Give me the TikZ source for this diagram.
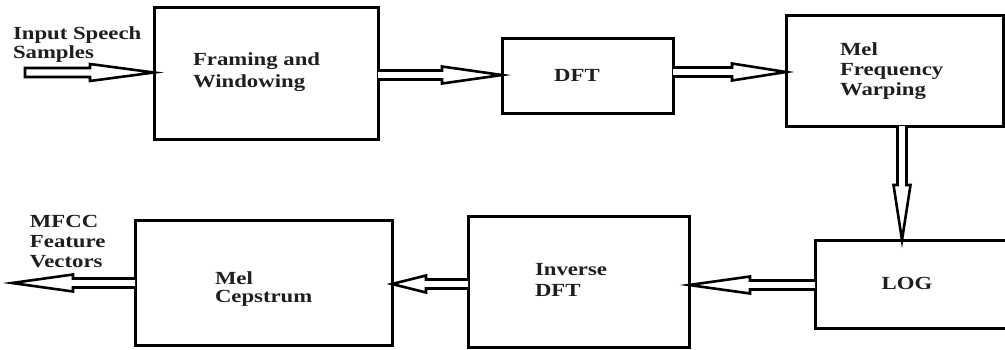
\documentclass[tikz,border=0pt]{standalone}
\usepackage{fontspec}
\setmainfont{Liberation Serif}[FakeStretch=1.23]
\usetikzlibrary{calc}
\tikzset{
  blk/.style={draw=black, line width=3pt, rectangle, inner sep=0pt, outer sep=0pt, fill=none},
  lbl/.style={inner sep=0pt, outer sep=0pt, align=left, anchor=north west, text=black!88,
              font=\fontsize{18.5}{20}\selectfont\bfseries},
  arrowline/.style={draw=black, line width=2.6pt, line join=miter, fill=white},
}
\newcommand\hollowarrow[4]{%
  \pgfmathsetmacro\hsd{sqrt(#3*#3+4.5*4.5)}%
  \pgfmathsetmacro\hsa{atan(4.5/#3)}%
  \pgfmathsetmacro\hhd{sqrt(#3*#3+8.5*8.5)}%
  \pgfmathsetmacro\hha{atan(8.5/#3)}%
  \draw[arrowline] ($(#1)!4.5pt!90:(#2)$) -- ($(#2)!\hsd pt!-\hsa:(#1)$)
    -- ($(#2)!\hhd pt!-\hha:(#1)$) -- (#2) -- ($(#2)!\hhd pt!\hha:(#1)$)
    -- ($(#2)!\hsd pt!\hsa:(#1)$) -- ($(#1)!4.5pt!-90:(#2)$) #4;
}
\begin{document}
\begin{tikzpicture}[x=1pt,y=-1pt]
\useasboundingbox[fill=white] (0,0) rectangle (1005,349);
\clip (0,0) rectangle (1005,349);
% boxes
\node[blk, minimum width=224pt, minimum height=132pt] (frame) at (266,73) {};
\node[blk, minimum width=171pt, minimum height=75pt] (dft) at (587.5,75.5) {};
\node[blk, minimum width=217pt, minimum height=111pt] (mel) at (894.5,70.5) {};
\node[blk, minimum width=230pt, minimum height=88pt] (log) at (930,284) {};
\node[blk, minimum width=221pt, minimum height=131pt] (inv) at (578.5,281.5) {};
\node[blk, minimum width=257pt, minimum height=125pt] (cep) at (263.5,282.5) {};
% labels
\node[lbl, font=\fontsize{18.5}{19}\selectfont\bfseries] (tin) at (13,27) {Input Speech\\Samples};
\node[lbl, font=\fontsize{18.5}{22}\selectfont\bfseries] (tframe) at (193,53) {Framing and\\Windowing};
\node[lbl, anchor=center] (tdft) at (577,75) {DFT};
\node[lbl] (tmel) at (840,43) {Mel\\Frequency\\Warping};
\node[lbl, anchor=center] (tlog) at (907,283) {LOG};
\node[lbl, font=\fontsize{18.5}{21}\selectfont\bfseries] (tinv) at (535,263) {Inverse\\DFT};
\node[lbl, font=\fontsize{18.5}{17.5}\selectfont\bfseries] (tcep) at (215,272) {Mel\\Cepstrum};
\node[lbl] (tout) at (30,215) {MFCC\\Feature\\Vectors};
% connector end points
\coordinate (inS) at (25,72.5);
\coordinate (inT) at (frame.west |- 0,72.5);
\coordinate (a1S) at (frame.east |- 0,75);
\coordinate (a1T) at (dft.west |- 0,75);
\coordinate (a2S) at (dft.east |- 0,72);
\coordinate (a2T) at (mel.west |- 0,72);
\coordinate (a3S) at (mel.south -| 902,0);
\coordinate (a3T) at (log.north -| 902,0);
\coordinate (a4S) at (log.west |- 0,285);
\coordinate (a4T) at (inv.east |- 0,285);
\coordinate (a5S) at (inv.west |- 0,284);
\coordinate (a5T) at (cep.east |- 0,284);
\coordinate (a6S) at (cep.west |- 0,283);
\coordinate (outT) at (12,283);
% connectors
\hollowarrow{inS}{inT}{64}{-- cycle}
\hollowarrow{a1S}{a1T}{60}{}
\hollowarrow{a2S}{a2T}{54}{}
\hollowarrow{a3S}{a3T}{55}{}
\hollowarrow{a4S}{a4T}{61}{}
\hollowarrow{a5S}{a5T}{34}{}
\hollowarrow{a6S}{outT}{61}{}
\end{tikzpicture}
\end{document}
